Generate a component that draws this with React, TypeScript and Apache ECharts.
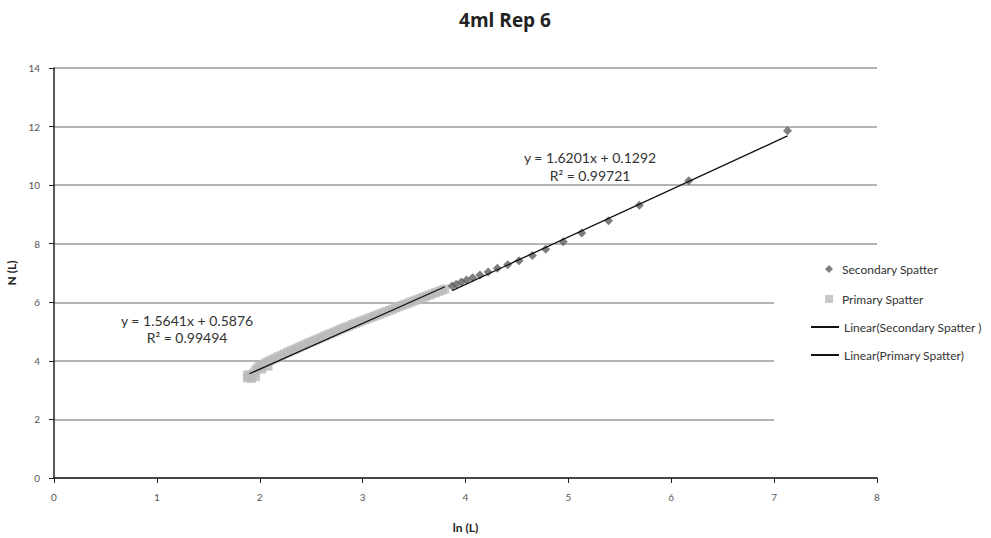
import React, { useEffect, useRef } from "react";
import * as echarts from "echarts";

const title = "4ml Rep 6";
const xAxisName = "ln (L)";
const yAxisName = "N (L)";

const secondaryName = "Secondary Spatter";
const primaryName = "Primary Spatter";
const secTrendName = "Linear(Secondary Spatter )";
const priTrendName = "Linear(Primary Spatter)";

const secondarySpatter: [number, number][] = [
  [3.87, 6.56], [3.91, 6.62], [3.96, 6.69], [4.01, 6.76], [4.07, 6.84],
  [4.14, 6.93], [4.22, 7.03], [4.31, 7.16], [4.41, 7.28], [4.52, 7.42],
  [4.65, 7.6], [4.78, 7.81], [4.95, 8.07], [5.13, 8.37], [5.39, 8.78],
  [5.69, 9.31], [6.17, 10.15], [7.13, 11.86],
];

const primarySpatter: [number, number][] = [
  [1.88, 3.42], [1.88, 3.52], [1.9, 3.46], [1.92, 3.4], [1.92, 3.52],
  [1.94, 3.58], [1.96, 3.46], [1.96, 3.68], [1.98, 3.76], [2.0, 3.82],
  [2.02, 3.72], [2.03, 3.88], [2.06, 3.94], [2.08, 3.82], [2.09, 3.99],
  [2.12, 4.04], [2.15, 4.09], [2.18, 4.14], [2.21, 4.19], [2.24, 4.24],
  [2.27, 4.29], [2.3, 4.34], [2.33, 4.38], [2.36, 4.43], [2.39, 4.48],
  [2.42, 4.52], [2.45, 4.57], [2.48, 4.62], [2.51, 4.66], [2.54, 4.71],
  [2.57, 4.75], [2.6, 4.8], [2.63, 4.84], [2.66, 4.89], [2.69, 4.93],
  [2.72, 4.98], [2.75, 5.02], [2.78, 5.07], [2.81, 5.11], [2.84, 5.15],
  [2.87, 5.19], [2.9, 5.24], [2.93, 5.28], [2.96, 5.32], [2.99, 5.36],
  [3.02, 5.4], [3.05, 5.44], [3.08, 5.48], [3.11, 5.52], [3.14, 5.56],
  [3.17, 5.6], [3.2, 5.64], [3.23, 5.68], [3.26, 5.72], [3.29, 5.76],
  [3.32, 5.81], [3.35, 5.85], [3.38, 5.89], [3.41, 5.93], [3.44, 5.97],
  [3.47, 6.01], [3.5, 6.05], [3.53, 6.09], [3.56, 6.13], [3.59, 6.17],
  [3.62, 6.21], [3.65, 6.25], [3.68, 6.29], [3.71, 6.33], [3.74, 6.37],
  [3.77, 6.41], [3.8, 6.45],
];

const secondaryTrend: [number, number][] = [[3.87, 6.4], [7.13, 11.68]];
const primaryTrend: [number, number][] = [[1.9, 3.56], [3.8, 6.53]];

const secondaryEq = "y = 1.6201x + 0.1292";
const secondaryR2 = "R² = 0.99721";
const primaryEq = "y = 1.5641x + 0.5876";
const primaryR2 = "R² = 0.99494";

const xTicks = { min: 0, max: 8, interval: 1 };
const yTicks = { min: 0, max: 14, interval: 2 };

const FONT = "Lato, 'Open Sans', sans-serif";

export default function App() {
  const ref = useRef<HTMLDivElement>(null);
  useEffect(() => {
    if (!ref.current) return;
    const chart = echarts.init(ref.current, undefined, { renderer: "svg" });
    const labelStyle = { color: "#555", fontSize: 10, fontFamily: FONT };
    const legendText = { fontSize: 12, color: "#333", fontFamily: FONT, lineHeight: 12 };
    const eqStyle = (text: string) => ({
      text,
      fill: "#333",
      fontSize: 14,
      fontFamily: FONT,
      textAlign: "center",
      textVerticalAlign: "middle",
    });
    chart.setOption({
      animation: false,
      backgroundColor: "#fff",
      textStyle: { fontFamily: FONT },
      title: {
        text: title,
        left: 500,
        textAlign: "center",
        top: 5,
        textStyle: { fontSize: 19, fontWeight: "bold", color: "#222", fontFamily: "'Open Sans', Lato, sans-serif" },
      },
      grid: { left: 54, right: 114, top: 68, bottom: 60, containLabel: false, outerBoundsMode: "none" },
      xAxis: {
        type: "value",
        ...xTicks,
        name: xAxisName,
        nameLocation: "middle",
        nameGap: 43,
        nameTextStyle: { fontSize: 12, fontWeight: "bold", color: "#222", fontFamily: FONT },
        axisLine: { lineStyle: { color: "#222", width: 1.5 } },
        axisTick: { show: true, lineStyle: { color: "#222" }, length: 5 },
        axisLabel: { ...labelStyle, margin: 14 },
        splitLine: { show: false },
      },
      yAxis: {
        type: "value",
        ...yTicks,
        name: yAxisName,
        nameLocation: "middle",
        nameGap: 33,
        nameRotate: 90,
        nameTextStyle: { fontSize: 12, fontWeight: "bold", color: "#222", fontFamily: FONT },
        axisLine: { show: true, lineStyle: { color: "#222", width: 1.5 } },
        axisTick: { show: true, lineStyle: { color: "#222" }, length: 5 },
        axisLabel: { ...labelStyle, margin: 14 },
        splitLine: { show: true, lineStyle: { color: "#b4b4b4", width: 2 } },
      },
      legend: [
        {
          left: 825,
          top: 263,
          padding: 0,
          itemWidth: 8,
          itemHeight: 8,
          textStyle: { ...legendText, padding: [0, 0, 0, 4] },
          data: [{ name: secondaryName, icon: "diamond" }],
          z: 5,
        },
        {
          left: 825,
          top: 293,
          padding: 0,
          itemWidth: 8,
          itemHeight: 8,
          textStyle: { ...legendText, padding: [0, 0, 0, 4] },
          data: [{ name: primaryName, icon: "rect" }],
          z: 5,
        },
        {
          left: 810,
          top: 321,
          padding: 0,
          itemWidth: 28,
          itemHeight: 8,
          textStyle: legendText,
          itemStyle: { opacity: 0 },
          data: [{ name: secTrendName }],
          z: 5,
        },
        {
          left: 810,
          top: 349,
          padding: 0,
          itemWidth: 28,
          itemHeight: 8,
          textStyle: legendText,
          itemStyle: { opacity: 0 },
          data: [{ name: priTrendName }],
          z: 5,
        },
      ],
      graphic: [
        {
          type: "rect",
          shape: { x: 774, y: 250, width: 217, height: 182 },
          style: { fill: "#fff" },
          z: 1,
          silent: true,
        },
        { type: "text", x: 187, y: 320, style: eqStyle(primaryEq) },
        { type: "text", x: 187, y: 337, style: eqStyle(primaryR2) },
        { type: "text", x: 590, y: 157, style: eqStyle(secondaryEq) },
        { type: "text", x: 590, y: 175, style: eqStyle(secondaryR2) },
      ],
      series: [
        {
          name: secondaryName,
          type: "scatter",
          data: secondarySpatter,
          symbol: "diamond",
          symbolSize: 9,
          itemStyle: { color: "#5e5e5e" },
          z: 3,
        },
        {
          name: primaryName,
          type: "scatter",
          data: primarySpatter,
          symbol: "rect",
          symbolSize: 9,
          itemStyle: { color: "#bababa" },
          z: 2,
        },
        {
          name: secTrendName,
          type: "line",
          data: secondaryTrend,
          symbol: "none",
          lineStyle: { color: "#111", width: 1.3 },
          itemStyle: { color: "#111" },
          z: 4,
        },
        {
          name: priTrendName,
          type: "line",
          data: primaryTrend,
          symbol: "none",
          lineStyle: { color: "#111", width: 1.3 },
          itemStyle: { color: "#111" },
          z: 4,
        },
      ],
    });
    return () => chart.dispose();
  }, []);
  return <div ref={ref} style={{ width: 991, height: 538, position: "absolute", left: 0, top: 0 }} />;
}
